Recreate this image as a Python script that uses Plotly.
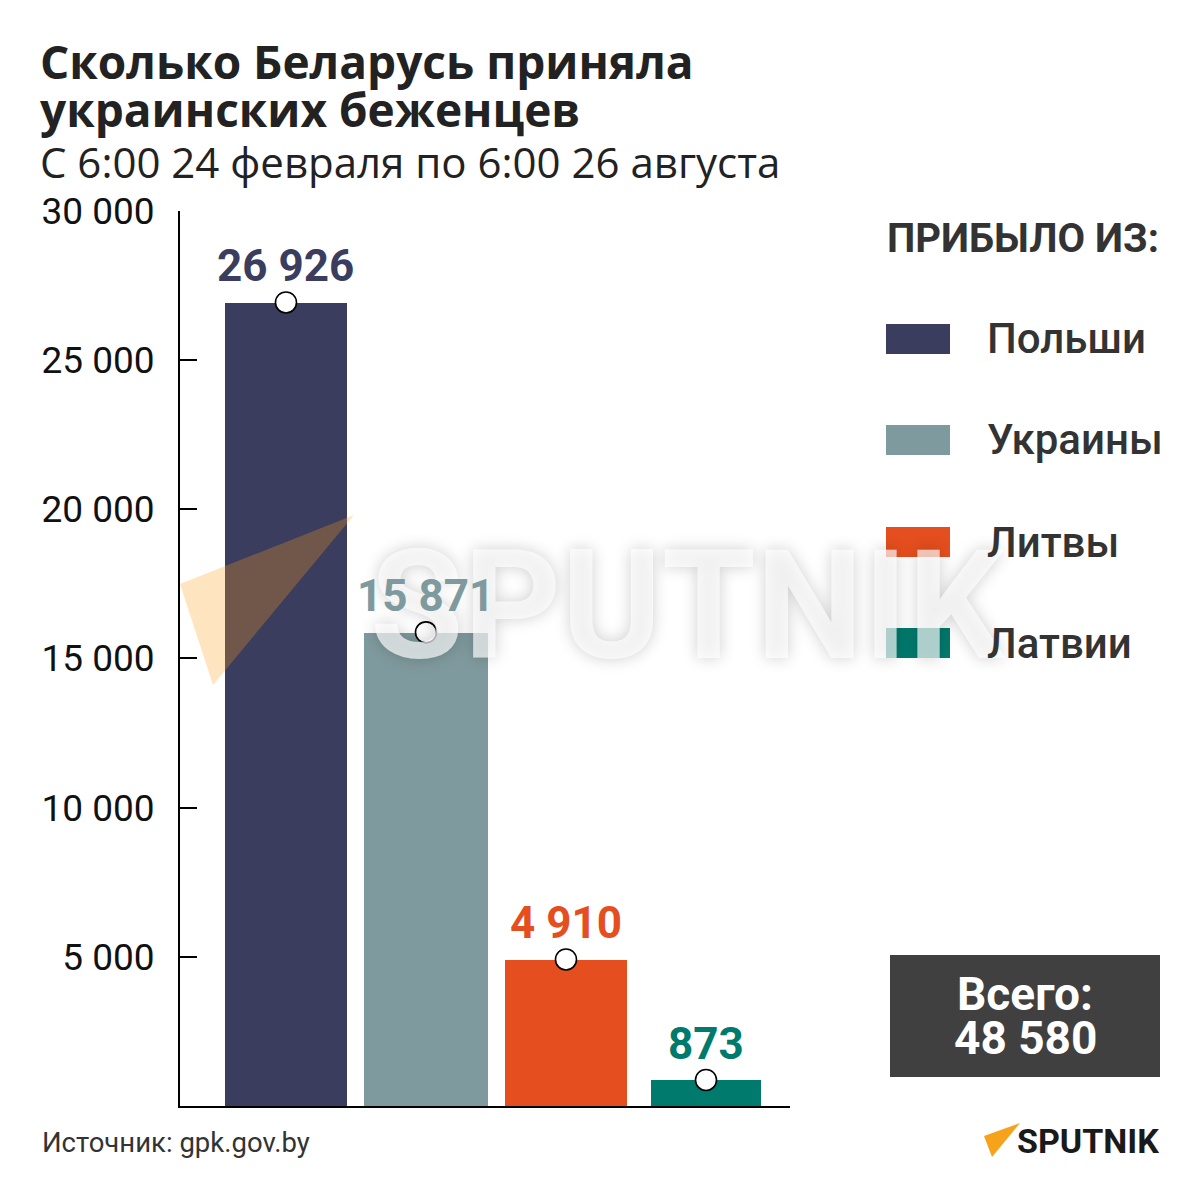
import plotly.graph_objects as go

# ---- data ----
countries = ["Польши", "Украины", "Литвы", "Латвии"]
values = [26926, 15871, 4910, 873]
value_labels = ["26 926", "15 871", "4 910", "873"]
colors = ["#3b3d5e", "#7f9a9e", "#e54e1e", "#007a6c"]
bar_widths = [0.87, 0.88, 0.87, 0.79]
tick_vals = [0, 5000, 10000, 15000, 20000, 25000, 30000]
tick_text = ["", "5 000", "10 000", "15 000", "20 000", "25 000", "30 000"]
total_lines = ["Всего:", "48 580"]
title_lines = ["Сколько Беларусь приняла", "украинских беженцев"]
subtitle = "С 6:00 24 февраля по 6:00 26 августа"
source = "Источник: gpk.gov.by"
legend_title = "ПРИБЫЛО ИЗ:"

OFF = 8          # page body margin
W = H = 1200 - OFF
def px(x):
    return (x - OFF) / W
def py(y):
    return 1 - (y - OFF) / H

FONT = "Roboto"

fig = go.Figure()
fig.add_trace(go.Bar(
    x=countries, y=values, width=bar_widths,
    marker=dict(color=colors, line=dict(width=0)),
    showlegend=False, hoverinfo="skip",
))
fig.add_trace(go.Scatter(
    x=countries, y=values, mode="markers",
    marker=dict(size=21, color="white", line=dict(color="black", width=1.6)),
    showlegend=False, hoverinfo="skip",
))

annotations = []
shapes = []

# watermark (drawn first so labels sit on top)
shapes.append(dict(type="path", xref="paper", yref="paper",
                   path=f"M {px(180)},{py(584)} L {px(354)},{py(515)} L {px(213)},{py(685)} Z",
                   fillcolor="rgba(255,160,20,0.27)", line=dict(width=0), layer="above"))
annotations.append(dict(x=px(688), y=py(606), xref="paper", yref="paper", xanchor="center", yanchor="middle",
                        text="<b>SPUTNIK</b>", showarrow=False,
                        font=dict(family=FONT, size=152, color="rgba(255,255,255,0.68)",
                                  shadow="0px 0px 16px rgba(0,0,0,0.28)")))

for c, v, lab, col in zip(countries, values, value_labels, colors):
    annotations.append(dict(
        x=c, y=v, xref="x", yref="y", text=f"<b>{lab}</b>", showarrow=False,
        yanchor="middle", yshift=36,
        font=dict(family=FONT, size=44, color=col),
    ))

def txt(x, y, text, size, color="#222222", family=FONT, xanchor="left", weight=None):
    f = dict(family=family, size=size, color=color)
    if weight:
        f["weight"] = weight
    annotations.append(dict(x=px(x), y=py(y), xref="paper", yref="paper", xanchor=xanchor,
                            yanchor="middle", text=text, showarrow=False, font=f))

# titles
txt(38, 61, f"<b>{title_lines[0]}</b>", 46, family="Open Sans")
txt(38, 109, f"<b>{title_lines[1]}</b>", 46, family="Open Sans")
txt(38, 162, subtitle, 42, family="Open Sans")
txt(40, 1142, source, 27.5, color="#333333")

# legend
txt(1161, 238, f"<b>{legend_title}</b>", 40, color="#333333", xanchor="right")
leg_y = [339, 440, 542, 643]
for c, col, ly in zip(countries, colors, leg_y):
    shapes.append(dict(type="rect", xref="paper", yref="paper",
                       x0=px(886), x1=px(950), y0=py(ly + 15), y1=py(ly - 15),
                       fillcolor=col, line=dict(width=0)))
    txt(985, ly, c, 42, color="#333333", weight=500)

# total box
shapes.append(dict(type="rect", xref="paper", yref="paper",
                   x0=px(890), x1=px(1160), y0=py(1077), y1=py(955),
                   fillcolor="#404040", line=dict(width=0)))
txt(1025, 994, f"<b>{total_lines[0]}</b>", 46, color="white", xanchor="center")
txt(1025, 1038, f"<b>{total_lines[1]}</b>", 46, color="white", xanchor="center")

# logo
shapes.append(dict(type="path", xref="paper", yref="paper",
                   path=f"M {px(984)},{py(1136)} L {px(1020)},{py(1123)} L {px(992)},{py(1157)} Z",
                   fillcolor="#f7a21b", line=dict(width=0)))
txt(1161, 1141, "<b>SPUTNIK</b>", 34, color="#1a1a1a", xanchor="right")

fig.update_layout(
    width=W, height=H,
    margin=dict(l=0, r=0, t=0, b=0, pad=0),
    paper_bgcolor="white", plot_bgcolor="white",
    bargap=0,
    xaxis=dict(domain=[px(180), px(790)], range=[-0.757, 3.6], showline=True, linecolor="black",
               linewidth=2, showticklabels=False, ticks="", showgrid=False, zeroline=False,
               automargin=False, fixedrange=True),
    yaxis=dict(domain=[py(1106), py(210.7)], range=[0, 30000], showline=True, linecolor="black",
               linewidth=2, ticks="inside", ticklen=17, tickwidth=2, tickcolor="black",
               tickvals=tick_vals, ticktext=tick_text, showgrid=False, zeroline=False,
               automargin=False,
               tickfont=dict(family=FONT, size=37, color="#111111"), ticklabelstandoff=16),
    annotations=annotations,
    shapes=shapes,
)

fig.write_html("out.html")
